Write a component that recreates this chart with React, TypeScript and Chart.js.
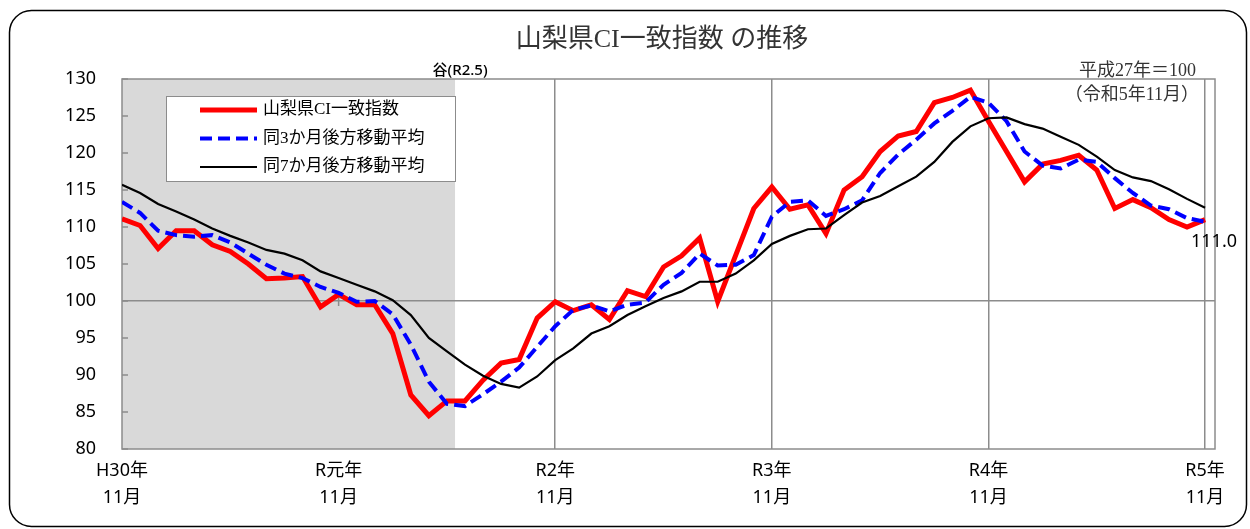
import React, { useEffect, useRef } from 'react';
import { Chart, registerables } from 'chart.js';

Chart.register(...registerables);

// ---- data ----
const months = [
  '2018/11', '2018/12', '2019/01', '2019/02', '2019/03', '2019/04', '2019/05', '2019/06', '2019/07', '2019/08',
  '2019/09', '2019/10', '2019/11', '2019/12', '2020/01', '2020/02', '2020/03', '2020/04', '2020/05', '2020/06',
  '2020/07', '2020/08', '2020/09', '2020/10', '2020/11', '2020/12', '2021/01', '2021/02', '2021/03', '2021/04',
  '2021/05', '2021/06', '2021/07', '2021/08', '2021/09', '2021/10', '2021/11', '2021/12', '2022/01', '2022/02',
  '2022/03', '2022/04', '2022/05', '2022/06', '2022/07', '2022/08', '2022/09', '2022/10', '2022/11', '2022/12',
  '2023/01', '2023/02', '2023/03', '2023/04', '2023/05', '2023/06', '2023/07', '2023/08', '2023/09', '2023/10',
  '2023/11',
];

const ciValues = [
  111.1, 110.2, 107.1, 109.5, 109.5, 107.6, 106.7, 105.0, 103.0, 103.1,
  103.3, 99.2, 100.9, 99.5, 99.5, 95.6, 87.3, 84.5, 86.5, 86.5,
  89.3, 91.6, 92.1, 97.7, 99.9, 98.7, 99.5, 97.5, 101.4, 100.6,
  104.6, 106.1, 108.5, 99.9, 106.2, 112.5, 115.4, 112.4, 113.0, 109.1,
  115.0, 116.8, 120.2, 122.3, 122.9, 126.8, 127.5, 128.5, 124.3, 120.2,
  116.1, 118.5, 119.0, 119.7, 117.7, 112.5, 113.7, 112.6, 111.0, 110.0,
  111.0,
];

const ma3Values = [
  113.4, 111.9, 109.5, 108.9, 108.7, 108.9, 107.9, 106.4, 104.9, 103.7,
  103.1, 101.9, 101.1, 99.9, 100.0, 98.2, 94.1, 89.1, 86.1, 85.8,
  87.4, 89.1, 91.0, 93.8, 96.6, 98.8, 99.4, 98.6, 99.5, 99.8,
  102.2, 103.8, 106.4, 104.8, 104.9, 106.2, 111.4, 113.4, 113.6, 111.5,
  112.4, 113.6, 117.3, 119.8, 121.8, 124.0, 125.7, 127.6, 126.8, 124.3,
  120.2, 118.3, 117.9, 119.1, 118.8, 116.6, 114.6, 112.9, 112.4, 111.2,
  110.7,
];

const ma7Values = [
  115.7, 114.6, 113.1, 112.1, 111.0, 109.8, 108.8, 107.9, 106.9, 106.4,
  105.5, 104.0, 103.1, 102.2, 101.3, 100.1, 98.1, 95.0, 93.2, 91.4,
  89.9, 88.8, 88.3, 89.8, 92.0, 93.6, 95.6, 96.6, 98.1, 99.3,
  100.4, 101.3, 102.6, 102.6, 103.7, 105.5, 107.7, 108.8, 109.7, 109.8,
  111.6, 113.3, 114.2, 115.5, 116.8, 118.8, 121.5, 123.6, 124.7, 124.8,
  123.9, 123.3, 122.2, 121.1, 119.5, 117.7, 116.7, 116.2, 115.1, 113.8,
  112.6,
];

const seriesNames = ['山梨県CI一致指数', '同3か月後方移動平均', '同7か月後方移動平均'];
const xTickIndex = [0, 12, 24, 36, 48, 60];
const xTickLabels = [
  ['H30年', '11月'],
  ['R元年', '11月'],
  ['R2年', '11月'],
  ['R3年', '11月'],
  ['R4年', '11月'],
  ['R5年', '11月'],
];
const yMin = 80;
const yMax = 130;
const yStep = 5;
const troughIndex = 18; // 谷 (R2.5)
const troughLabel = '谷(R2.5)';
const titleText = '山梨県CI一致指数 の推移';
const baseNote = ['平成27年＝100', '（令和5年11月）'];
const lastValueLabel = '111.0';

// ---- styles ----
const GRID = '#8c8c8c';
const SERIF = '"Liberation Serif", "DejaVu Serif", "Noto Sans CJK JP", serif';
const SANS = '"Noto Sans", "Noto Sans CJK JP", sans-serif';

const decorPlugin = {
  id: 'decor',
  beforeDraw(chart: any) {
    const { ctx, chartArea: a, scales } = chart;
    const x = scales.x;
    ctx.save();
    ctx.fillStyle = '#ffffff';
    ctx.fillRect(0, 0, chart.width, chart.height);
    // shaded recession period
    const xe = x.getPixelForValue(troughIndex + 0.45);
    ctx.fillStyle = '#d9d9d9';
    ctx.fillRect(a.left, a.top, xe - a.left, a.bottom - a.top);
    ctx.restore();
  },
  beforeDatasetsDraw(chart: any) {
    const { ctx, chartArea: a, scales } = chart;
    const x = scales.x;
    const y = scales.y;
    ctx.save();
    ctx.strokeStyle = GRID;
    ctx.lineWidth = 1.5;
    ctx.strokeRect(a.left, a.top, a.right - a.left, a.bottom - a.top);
    // inner tick marks on value axis
    ctx.beginPath();
    for (let v = yMin; v <= yMax; v += yStep) {
      const py = y.getPixelForValue(v);
      ctx.moveTo(a.left, py);
      ctx.lineTo(a.left + 6, py);
    }
    // cross tick on category axis (crossing at 100)
    const p12 = x.getPixelForValue(12);
    const p100 = y.getPixelForValue(100);
    ctx.moveTo(p12, p100 - 4);
    ctx.lineTo(p12, p100 + 5);
    ctx.stroke();
    ctx.restore();
  },
  afterDatasetsDraw(chart: any) {
    const { ctx, scales } = chart;
    const x = scales.x;
    ctx.save();
    // outer rounded frame
    ctx.strokeStyle = '#000';
    ctx.lineWidth = 1.5;
    ctx.beginPath();
    (ctx as any).roundRect(9.5, 10.5, 1237, 516, 22);
    ctx.stroke();

    // title
    ctx.fillStyle = '#333';
    ctx.font = `26px ${SERIF}`;
    ctx.textAlign = 'center';
    ctx.textBaseline = 'middle';
    ctx.fillText(titleText, 662, 40);

    // trough label
    ctx.fillStyle = '#000';
    ctx.font = `500 15px ${SANS}`;
    ctx.fillText(troughLabel, x.getPixelForValue(troughIndex + 0.45) + 5, 71);

    // base note
    ctx.fillStyle = '#333';
    ctx.font = `18px ${SERIF}`;
    ctx.textAlign = 'right';
    ctx.fillText(baseNote[0], 1196, 71);
    ctx.fillText(baseNote[1], 1199, 95);

    // last value label
    ctx.fillStyle = '#000';
    ctx.font = `18px ${SANS}`;
    ctx.textAlign = 'center';
    ctx.fillText(lastValueLabel, 1214, 242);

    // legend
    const lx = 166.5, ly = 96.5, lw = 289, lh = 85;
    ctx.fillStyle = '#fff';
    ctx.fillRect(lx, ly, lw, lh);
    ctx.strokeStyle = GRID;
    ctx.lineWidth = 1;
    ctx.strokeRect(lx, ly, lw, lh);
    const rows = [110, 138.5, 167];
    chart.data.datasets.forEach((ds: any, i: number) => {
      const ry = rows[i];
      ctx.beginPath();
      ctx.strokeStyle = ds.borderColor;
      ctx.lineWidth = ds.borderWidth;
      ctx.setLineDash(ds.borderDash || []);
      ctx.lineCap = 'butt';
      ctx.moveTo(200, ry);
      ctx.lineTo(257, ry);
      ctx.stroke();
      ctx.setLineDash([]);
      ctx.fillStyle = '#000';
      ctx.font = `17px ${SERIF}`;
      ctx.textAlign = 'left';
      ctx.textBaseline = 'middle';
      ctx.fillText(ds.label, 263, ry);
    });
    ctx.restore();
  },
};

export default function App() {
  const ref = useRef<HTMLCanvasElement | null>(null);

  useEffect(() => {
    const canvas = ref.current;
    if (!canvas) return;
    const toPts = (arr: number[]) => arr.map((v, i) => ({ x: i, y: v }));
    const chart = new Chart(canvas, {
      type: 'line',
      data: {
        labels: months,
        datasets: [
          {
            label: seriesNames[0],
            data: toPts(ciValues),
            borderColor: '#ff0000',
            borderWidth: 5,
            pointRadius: 0,
            tension: 0,
            order: 2,
            borderJoinStyle: 'miter',
          },
          {
            label: seriesNames[1],
            data: toPts(ma3Values),
            borderColor: '#0000ff',
            borderWidth: 4,
            borderDash: [12, 6],
            pointRadius: 0,
            tension: 0,
            order: 1,
          },
          {
            label: seriesNames[2],
            data: toPts(ma7Values),
            borderColor: '#000000',
            borderWidth: 2.2,
            pointRadius: 0,
            tension: 0,
            order: 0,
          },
        ],
      } as any,
      options: {
        animation: false,
        responsive: false,
        devicePixelRatio: 1,
        layout: { padding: { top: 79, right: 35, bottom: 0, left: 0 } },
        plugins: {
          legend: { display: false },
          title: { display: false },
          tooltip: { enabled: false },
        },
        scales: {
          x: {
            type: 'linear',
            min: 0,
            max: 60.55,
            afterBuildTicks: (s: any) => {
              s.ticks = xTickIndex.map((v) => ({ value: v }));
            },
            afterFit: (s: any) => {
              s.height = 80;
            },
            ticks: {
              autoSkip: false,
              maxRotation: 0,
              padding: 8,
              color: '#000',
              font: { family: SANS, size: 18, lineHeight: 1.5 },
              callback: (v: any) => {
                const k = xTickIndex.indexOf(Number(v));
                return k >= 0 ? xTickLabels[k] : '';
              },
            },
            grid: {
              drawTicks: false,
              lineWidth: 1.5,
              color: (c: any) =>
                c.tick && [24, 36, 48, 60].includes(c.tick.value) ? GRID : 'rgba(0,0,0,0)',
            },
            border: { display: false },
          },
          y: {
            type: 'linear',
            min: yMin,
            max: yMax,
            afterFit: (s: any) => {
              s.width = 122;
            },
            ticks: {
              stepSize: yStep,
              padding: 26,
              color: '#000',
              font: { family: SANS, size: 18 },
            },
            grid: {
              drawTicks: false,
              lineWidth: 1.5,
              color: (c: any) => (c.tick && c.tick.value === 100 ? GRID : 'rgba(0,0,0,0)'),
            },
            border: { display: false },
          },
        },
      } as any,
      plugins: [decorPlugin],
    });
    return () => chart.destroy();
  }, []);

  return (
    <div style={{ position: 'fixed', left: 0, top: 0, width: 1250, height: 529, background: '#fff' }}>
      <canvas ref={ref} width={1250} height={529} style={{ width: 1250, height: 529, display: 'block' }} />
    </div>
  );
}
